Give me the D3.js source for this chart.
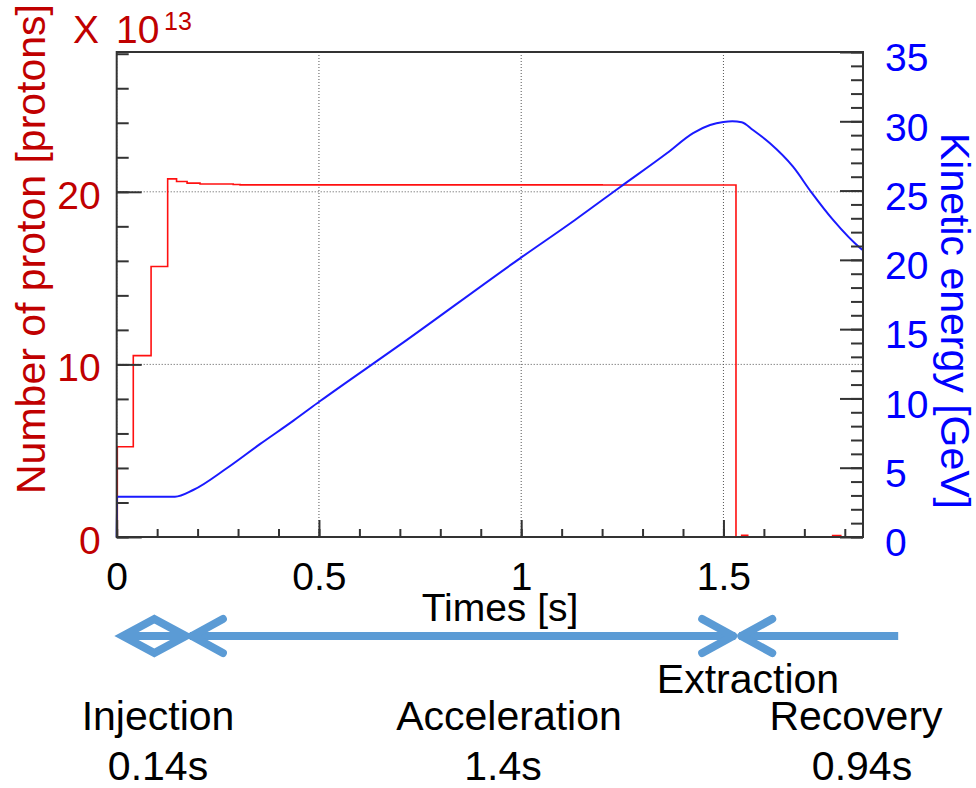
<!DOCTYPE html>
<html>
<head>
<meta charset="utf-8">
<script src="https://cdn.jsdelivr.net/npm/d3@7"></script>
<style>
  html, body { margin: 0; padding: 0; background: #fff; }
  svg { display: block; }
  text { font-family: "Liberation Sans", Arial, sans-serif; }
</style>
</head>
<body>
<svg id="chart" width="976" height="788"></svg>
<script>
// ---------------- data ----------------
// Proton number (x 10^13), step histogram: time [s] and value
const protonTime  = [0, 0.0015, 0.041, 0.085, 0.126, 0.148, 0.174, 0.206, 0.288, 0.305, 1.2, 1.531, 1.545, 1.56, 1.77, 1.79, 1.845];
const protonCount = [0, 5.23, 10.51, 15.67, 20.75, 20.6, 20.5, 20.45, 20.42, 20.40, 20.39, 0, 0.1, 0, 0.08, 0, 0];

// Kinetic energy [GeV]
const energyTime  = [0, 0.001, 0.144, 0.189, 0.272, 0.354, 0.437, 0.503, 0.700, 0.997, 1.133, 1.244, 1.36, 1.425, 1.467, 1.5, 1.522, 1.545, 1.573, 1.615, 1.672, 1.718, 1.771, 1.838, 1.845];
const energyValue = [0, 2.91, 2.91, 3.39, 4.96, 6.70, 8.40, 9.81, 13.86, 20.11, 22.88, 25.24, 27.69, 29.15, 29.73, 29.95, 30.0, 29.93, 29.37, 28.41, 26.72, 24.85, 22.88, 20.86, 20.7];

// Axis ticks
const xMajorTicks = [0, 0.5, 1, 1.5];
const xTickLabels = ["0", "0.5", "1", "1.5"];
const leftMajorTicks = [0, 10, 20];
const rightMajorTicks = [0, 5, 10, 15, 20, 25, 30, 35];

// Phase annotation (times along the time axis, arrow tips)
const phaseNames = ["Injection", "Acceleration", "Recovery"];
const phaseDurations = ["0.14s", "1.4s", "0.94s"];
const arrowTimes = { injStart: 0.015, injEnd: 0.171, accStart: 0.181, accEnd: 1.529, recStart: 1.539, recEnd: 1.932 };

// ---------------- layout ----------------
const svg = d3.select("#chart");
const X0 = 116.7, X1 = 863, YB = 537, YT = 52;
const x = d3.scaleLinear().domain([0, 1.845]).range([X0, X1]);
const yL = d3.scaleLinear().domain([0, 28.1]).range([YB, YT]);
const yR = d3.scaleLinear().domain([0, 35]).range([YB, YT]);

const darkRed = "#c00000";
const blue = "#0000ff";
const arrowCol = "#5b9bd5";
const tickFont = 39;

// grid (dotted)
const grid = svg.append("g").attr("stroke", "#555").attr("stroke-width", 1).attr("stroke-dasharray", "1,2");
xMajorTicks.forEach(t => {
  grid.append("line").attr("x1", x(t)).attr("x2", x(t)).attr("y1", YT).attr("y2", YB);
});
leftMajorTicks.forEach(v => {
  grid.append("line").attr("x1", X0).attr("x2", X1).attr("y1", yL(v)).attr("y2", yL(v));
});

// curves
const protonData = protonTime.map((t, i) => [t, protonCount[i]]);
const energyData = energyTime.map((t, i) => [t, energyValue[i]]);

svg.append("path")
  .datum(protonData)
  .attr("fill", "none").attr("stroke", "#ff1010").attr("stroke-width", 1.6)
  .attr("d", d3.line().x(d => x(d[0])).y(d => yL(d[1])).curve(d3.curveStepAfter));

svg.append("path")
  .datum(energyData)
  .attr("fill", "none").attr("stroke", "#1a1aff").attr("stroke-width", 2)
  .attr("d", d3.line().x(d => x(d[0])).y(d => yR(d[1])).curve(d3.curveMonotoneX));

// frame
svg.append("rect").attr("x", X0).attr("y", YT).attr("width", X1 - X0).attr("height", YB - YT)
  .attr("fill", "none").attr("stroke", "#333").attr("stroke-width", 2);

function styleAxis(g, color) {
  g.select(".domain").remove();
  g.selectAll(".tick line").attr("stroke", "#333").attr("stroke-width", 2);
  g.selectAll("text").attr("font-size", tickFont).attr("fill", color)
    .attr("font-family", "'Liberation Sans', Arial, sans-serif");
}

// bottom axis: minor then major
const xMinor = d3.range(0, 1.85, 0.1).map(v => +v.toFixed(2));
svg.append("g").attr("transform", `translate(0,${YB})`)
  .call(d3.axisBottom(x).tickValues(xMinor).tickSize(-8).tickFormat(""))
  .call(g => styleAxis(g, "#000"));
svg.append("g").attr("transform", `translate(0,${YB})`)
  .call(d3.axisBottom(x).tickValues(xMajorTicks).tickSize(-17).tickPadding(25)
    .tickFormat((d, i) => xTickLabels[i]))
  .call(g => styleAxis(g, "#000"));

// left axis
const lMinor = d3.range(0, 28.1, 2);
svg.append("g").attr("transform", `translate(${X0},0)`)
  .call(d3.axisLeft(yL).tickValues(lMinor).tickSize(-12).tickFormat(""))
  .call(g => styleAxis(g, darkRed));
svg.append("g").attr("transform", `translate(${X0},0)`)
  .call(d3.axisLeft(yL).tickValues(leftMajorTicks).tickSize(-25).tickPadding(16).tickFormat(d3.format("d")))
  .call(g => { styleAxis(g, darkRed); g.selectAll("text").attr("dy", "0.42em"); });

// right axis
const rMinor = d3.range(0, 35.5, 1);
svg.append("g").attr("transform", `translate(${X1},0)`)
  .call(d3.axisRight(yR).tickValues(rMinor).tickSize(-12).tickFormat(""))
  .call(g => styleAxis(g, blue));
svg.append("g").attr("transform", `translate(${X1},0)`)
  .call(d3.axisRight(yR).tickValues(rightMajorTicks).tickSize(-23).tickPadding(22).tickFormat(d3.format("d")))
  .call(g => { styleAxis(g, blue); g.selectAll("text").attr("dy", "0.48em"); });

// axis titles
svg.append("text")
  .attr("transform", "translate(45,249) rotate(-90)")
  .attr("text-anchor", "middle").attr("font-size", 41).attr("fill", darkRed)
  .text("Number of proton [protons]");

svg.append("text").attr("x", 73).attr("y", 43).attr("font-size", 39).attr("fill", darkRed).text("X");
svg.append("text").attr("x", 116).attr("y", 43).attr("font-size", 39).attr("fill", darkRed).text("10");
svg.append("text").attr("x", 164).attr("y", 30).attr("font-size", 25).attr("fill", darkRed).text("13");

svg.append("text")
  .attr("transform", "translate(941,321) rotate(90)")
  .attr("text-anchor", "middle").attr("font-size", 41).attr("fill", blue)
  .text("Kinetic energy [GeV]");

svg.append("text").attr("x", 500).attr("y", 621).attr("text-anchor", "middle")
  .attr("font-size", 39).attr("fill", "#000").text("Times [s]");

// ---------------- phase arrows ----------------
const AY = 636, AH = 17, AW = 33;
const arrows = svg.append("g").attr("fill", "none").attr("stroke", arrowCol)
  .attr("stroke-width", 8).attr("stroke-linecap", "round").attr("stroke-linejoin", "round");

// injection: small double-headed (diamond)
const ia = x(arrowTimes.injStart), ib = x(arrowTimes.injEnd), im = (ia + ib) / 2;
arrows.append("path").attr("stroke-linecap", "butt").attr("stroke-linejoin", "miter")
  .attr("d", `M${ia},${AY} L${im},${AY - AH} L${ib},${AY} L${im},${AY + AH} Z M${ia},${AY} L${ib},${AY}`);

// acceleration
const aa = x(arrowTimes.accStart), ab = x(arrowTimes.accEnd);
arrows.append("path").attr("stroke-linecap", "butt").attr("d", `M${aa},${AY} L${ab},${AY}`);
arrows.append("path").attr("d", `M${aa + AW},${AY - AH} L${aa + 2},${AY} L${aa + AW},${AY + AH}`);
arrows.append("path").attr("d", `M${ab - AW},${AY - AH} L${ab - 2},${AY} L${ab - AW},${AY + AH}`);

// recovery
const ra = x(arrowTimes.recStart), rb = x(arrowTimes.recEnd);
arrows.append("path").attr("stroke-linecap", "butt").attr("d", `M${ra},${AY} L${rb},${AY}`);
arrows.append("path").attr("d", `M${ra + AW},${AY - AH} L${ra + 2},${AY} L${ra + AW},${AY + AH}`);

// labels
const labFont = 41;
svg.append("text").attr("x", 748).attr("y", 693).attr("text-anchor", "middle")
  .attr("font-size", labFont).attr("fill", "#000").text("Extraction");
const nameX = [158, 509, 856];
const durX = [158, 503, 862];
phaseNames.forEach((n, i) => {
  svg.append("text").attr("x", nameX[i]).attr("y", 730).attr("text-anchor", "middle")
    .attr("font-size", labFont).attr("fill", "#000").text(n);
  svg.append("text").attr("x", durX[i]).attr("y", 780).attr("text-anchor", "middle")
    .attr("font-size", labFont).attr("fill", "#000").text(phaseDurations[i]);
});
</script>
</body>
</html>
